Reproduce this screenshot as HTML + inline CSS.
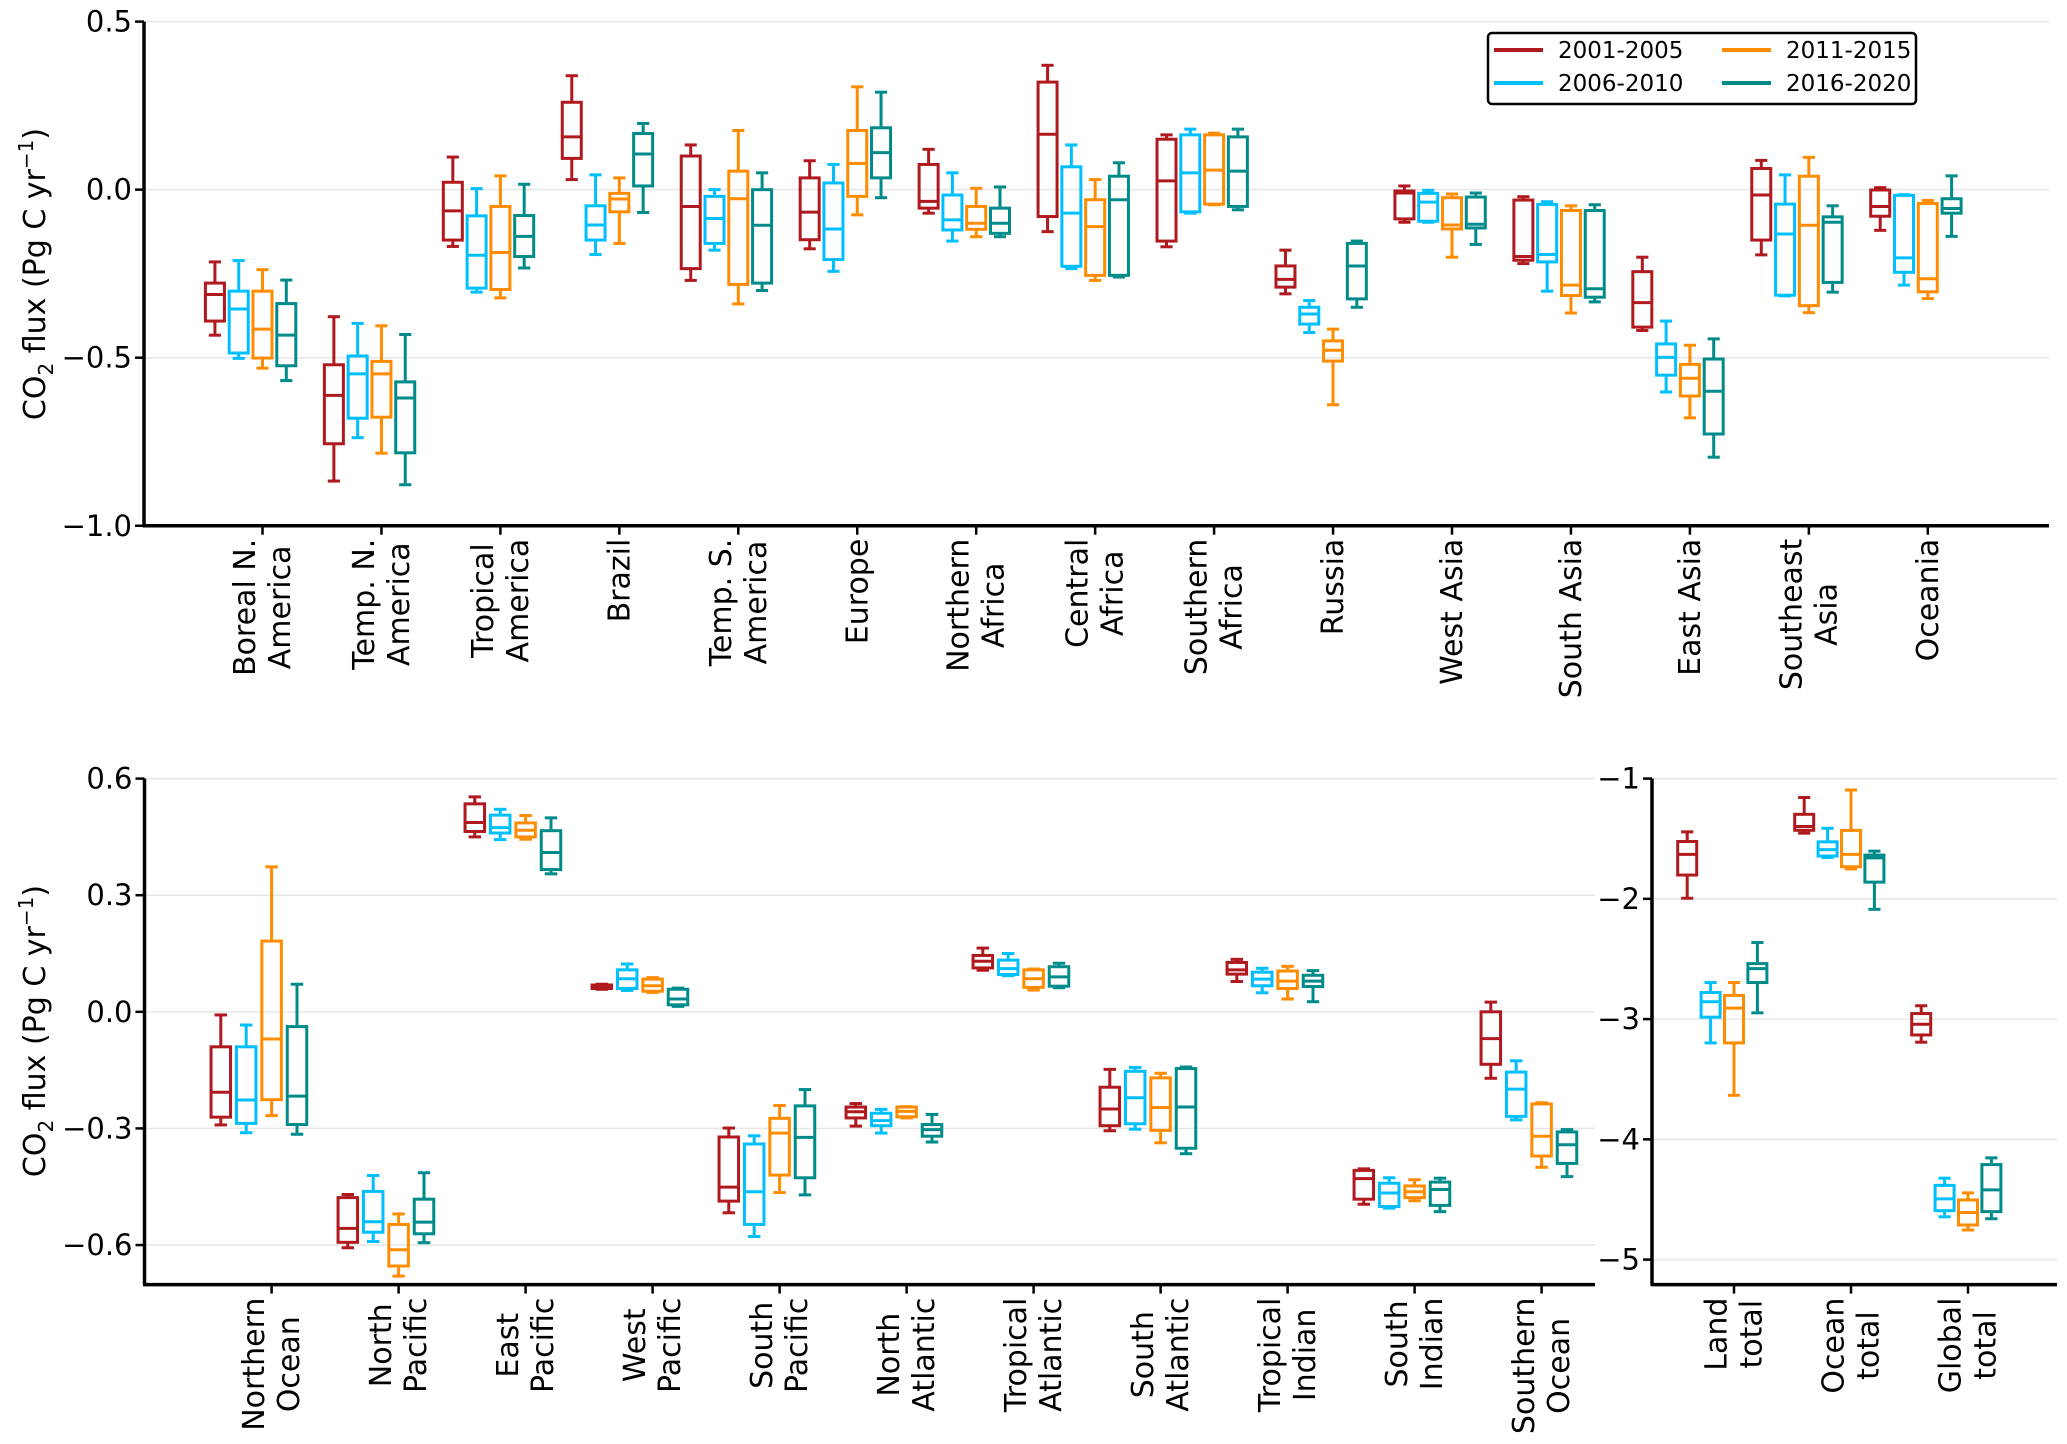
<!DOCTYPE html>
<html><head><meta charset="utf-8"><style>
html,body{margin:0;padding:0;background:#fff;}
svg{display:block;font-family:"DejaVu Sans","Liberation Sans",sans-serif;}
</style></head><body>
<svg id="chart" width="2067" height="1444" viewBox="0 0 2067 1444" xmlns="http://www.w3.org/2000/svg">
<g id="layer"></g>
</svg>
<script>
const colors = ["#b0191e","#00bfff","#ff8c00","#008b8b"];
const periods = ["2001-2005","2006-2010","2011-2015","2016-2020"];

const landCats = ["Boreal N.|America","Temp. N.|America","Tropical|America","Brazil","Temp. S.|America","Europe","Northern|Africa","Central|Africa","Southern|Africa","Russia","West Asia","South Asia","East Asia","Southeast|Asia","Oceania"];
const landTicks = ["0.5","0.0","−0.5","−1.0"];
const landTickVals = [0.5,0,-0.5,-1.0];
const land2001 = [[-0.433,-0.391,-0.312,-0.278,-0.215],[-0.867,-0.756,-0.612,-0.521,-0.378],[-0.169,-0.150,-0.063,0.022,0.097],[0.030,0.093,0.157,0.260,0.339],[-0.27,-0.235,-0.05,0.10,0.133],[-0.176,-0.149,-0.067,0.035,0.086],[-0.07,-0.055,-0.035,0.075,0.12],[-0.125,-0.08,0.165,0.32,0.37],[-0.17,-0.153,0.026,0.15,0.163],[-0.31,-0.29,-0.267,-0.227,-0.18],[-0.097,-0.087,-0.01,-0.004,0.011],[-0.22,-0.21,-0.199,-0.031,-0.021],[-0.419,-0.409,-0.336,-0.244,-0.201],[-0.194,-0.15,-0.016,0.063,0.087],[-0.121,-0.079,-0.05,-0.001,0.006]];
const land2006 = [[-0.502,-0.486,-0.355,-0.302,-0.211],[-0.738,-0.680,-0.548,-0.495,-0.398],[-0.305,-0.293,-0.195,-0.078,0.003],[-0.193,-0.15,-0.105,-0.048,0.044],[-0.18,-0.16,-0.086,-0.02,0.0],[-0.243,-0.208,-0.117,0.02,0.075],[-0.153,-0.12,-0.09,-0.016,0.05],[-0.235,-0.228,-0.07,0.068,0.133],[-0.07,-0.066,0.05,0.163,0.18],[-0.425,-0.40,-0.37,-0.35,-0.33],[-0.097,-0.094,-0.037,-0.011,-0.002],[-0.302,-0.215,-0.193,-0.044,-0.036],[-0.602,-0.552,-0.499,-0.459,-0.391],[-0.316,-0.314,-0.132,-0.043,0.044],[-0.284,-0.246,-0.203,-0.017,-0.015]];
const land2011 = [[-0.531,-0.501,-0.415,-0.302,-0.238],[-0.784,-0.677,-0.548,-0.511,-0.405],[-0.322,-0.297,-0.187,-0.05,0.041],[-0.16,-0.066,-0.028,-0.011,0.035],[-0.34,-0.282,-0.027,0.055,0.176],[-0.075,-0.02,0.078,0.176,0.306],[-0.14,-0.118,-0.1,-0.05,0.004],[-0.27,-0.255,-0.11,-0.03,0.03],[-0.045,-0.043,0.058,0.163,0.168],[-0.64,-0.51,-0.478,-0.45,-0.415],[-0.201,-0.117,-0.105,-0.024,-0.013],[-0.367,-0.315,-0.284,-0.062,-0.048],[-0.679,-0.614,-0.561,-0.52,-0.463],[-0.366,-0.345,-0.106,0.04,0.096],[-0.324,-0.304,-0.265,-0.041,-0.032]];
const land2016 = [[-0.568,-0.524,-0.433,-0.339,-0.269],[-0.878,-0.783,-0.620,-0.572,-0.431],[-0.233,-0.199,-0.139,-0.077,0.016],[-0.068,0.011,0.106,0.167,0.197],[-0.30,-0.278,-0.106,0,0.05],[-0.024,0.035,0.11,0.184,0.29],[-0.14,-0.13,-0.1,-0.055,0.008],[-0.26,-0.255,-0.03,0.04,0.08],[-0.06,-0.05,0.055,0.157,0.18],[-0.35,-0.325,-0.227,-0.16,-0.153],[-0.163,-0.114,-0.103,-0.022,-0.01],[-0.334,-0.32,-0.295,-0.062,-0.045],[-0.796,-0.727,-0.6,-0.504,-0.444],[-0.305,-0.276,-0.097,-0.081,-0.048],[-0.139,-0.07,-0.056,-0.027,0.041]];

const oceanCats = ["Northern|Ocean","North|Pacific","East|Pacific","West|Pacific","South|Pacific","North|Atlantic","Tropical|Atlantic","South|Atlantic","Tropical|Indian","South|Indian","Southern|Ocean"];
const oceanTicks = ["0.6","0.3","0.0","−0.3","−0.6"];
const oceanTickVals = [0.6,0.3,0,-0.3,-0.6];
const ocean2001 = [[-0.291,-0.271,-0.207,-0.09,-0.008],[-0.607,-0.593,-0.557,-0.478,-0.47],[0.45,0.464,0.487,0.535,0.553],[0.058,0.06,0.064,0.069,0.071],[-0.517,-0.487,-0.451,-0.322,-0.299],[-0.294,-0.273,-0.257,-0.245,-0.236],[0.107,0.113,0.13,0.145,0.164],[-0.306,-0.293,-0.25,-0.194,-0.148],[0.078,0.097,0.108,0.127,0.135],[-0.495,-0.482,-0.429,-0.408,-0.404],[-0.171,-0.135,-0.069,0,0.025]];
const ocean2006 = [[-0.311,-0.287,-0.227,-0.09,-0.034],[-0.591,-0.567,-0.54,-0.462,-0.421],[0.443,0.46,0.474,0.506,0.521],[0.055,0.06,0.085,0.108,0.123],[-0.578,-0.547,-0.463,-0.34,-0.319],[-0.312,-0.293,-0.28,-0.261,-0.251],[0.093,0.096,0.111,0.133,0.15],[-0.302,-0.288,-0.221,-0.153,-0.143],[0.049,0.067,0.084,0.102,0.112],[-0.505,-0.501,-0.466,-0.441,-0.427],[-0.278,-0.269,-0.199,-0.155,-0.126]];
const ocean2011 = [[-0.267,-0.226,-0.07,0.182,0.373],[-0.68,-0.654,-0.612,-0.547,-0.52],[0.444,0.45,0.467,0.486,0.505],[0.05,0.053,0.067,0.084,0.088],[-0.465,-0.42,-0.312,-0.274,-0.241],[-0.273,-0.27,-0.256,-0.245,-0.244],[0.056,0.063,0.085,0.108,0.11],[-0.337,-0.305,-0.246,-0.17,-0.158],[0.033,0.06,0.079,0.105,0.117],[-0.486,-0.478,-0.463,-0.448,-0.432],[-0.4,-0.371,-0.32,-0.237,-0.234]];
const ocean2016 = [[-0.315,-0.29,-0.217,-0.038,0.071],[-0.594,-0.571,-0.541,-0.482,-0.414],[0.355,0.366,0.41,0.466,0.499],[0.014,0.018,0.033,0.058,0.061],[-0.471,-0.427,-0.323,-0.242,-0.2],[-0.335,-0.32,-0.303,-0.29,-0.264],[0.062,0.066,0.09,0.116,0.125],[-0.365,-0.351,-0.245,-0.146,-0.142],[0.026,0.065,0.079,0.094,0.106],[-0.514,-0.498,-0.457,-0.438,-0.428],[-0.424,-0.39,-0.342,-0.309,-0.303]];

const totalCats = ["Land|total","Ocean|total","Global|total"];
const totalTicks = ["−1","−2","−3","−4","−5"];
const totalTickVals = [-1,-2,-3,-4,-5];
const total2001 = [[-1.995,-1.802,-1.63,-1.523,-1.443],[-1.454,-1.43,-1.398,-1.297,-1.157],[-3.192,-3.132,-3.043,-2.954,-2.889]];
const total2006 = [[-3.198,-2.984,-2.856,-2.779,-2.696],[-1.656,-1.644,-1.591,-1.526,-1.413],[-4.644,-4.593,-4.495,-4.383,-4.323]];
const total2011 = [[-3.634,-3.198,-2.909,-2.803,-2.696],[-1.751,-1.733,-1.63,-1.431,-1.095],[-4.754,-4.712,-4.608,-4.504,-4.445]];
const total2016 = [[-2.948,-2.696,-2.58,-2.538,-2.363],[-2.087,-1.861,-1.659,-1.636,-1.603],[-4.66,-4.601,-4.42,-4.21,-4.154]];

const NS = "http://www.w3.org/2000/svg";
const layer = document.getElementById('layer');
function mk(tag, attrs, parent){
  const e = document.createElementNS(NS, tag);
  for (const k in attrs) e.setAttribute(k, attrs[k]);
  (parent||layer).appendChild(e);
  return e;
}

function panel(p){
  const g = mk('g', {});
  
  
  const y = v => p.yTop + (p.vTop - v) * p.ppu;
  const x = i => p.x0 + i * p.step;
  p.tickVals.forEach((tv, i) => {
    const gl = mk('line', {x1:p.axL, x2:p.axR, y1:y(tv), y2:y(tv), stroke:'#e6e6e6', 'stroke-width':1.5}, g);
    
    
  });
  p.series.forEach((ser, s) => {
    const sg = mk('g', {fill:'none', stroke:colors[s], 'stroke-width':3}, g);
    
    
    ser.forEach((d, i) => {
      const cx = x(i) + (s - 2) * p.step / 5;
      const hw = p.boxW / 2, cw = p.boxW * 0.32;
      const bg = mk('g', {}, sg);
      
      
      mk('line', {x1:cx, x2:cx, y1:y(d[0]), y2:y(d[1])}, bg);
      mk('line', {x1:cx, x2:cx, y1:y(d[3]), y2:y(d[4])}, bg);
      mk('line', {x1:cx-cw, x2:cx+cw, y1:y(d[0]), y2:y(d[0])}, bg);
      mk('line', {x1:cx-cw, x2:cx+cw, y1:y(d[4]), y2:y(d[4])}, bg);
      mk('rect', {x:cx-hw, y:y(d[3]), width:p.boxW, height:Math.max(0.5, y(d[1])-y(d[3]))}, bg);
      mk('line', {x1:cx-hw, x2:cx+hw, y1:y(d[2]), y2:y(d[2])}, bg);
    });
  });
  const ls = mk('line', {x1:p.axL, x2:p.axL, y1:p.yTop, y2:p.yBot, stroke:'#000', 'stroke-width':3.5}, g);
  
  
  const bs = mk('line', {x1:p.axL-1.5, x2:p.axR, y1:p.yBot, y2:p.yBot, stroke:'#000', 'stroke-width':3.5}, g);
  
  
  p.tickVals.forEach((tv, i) => {
    mk('line', {x1:p.axL-9, x2:p.axL, y1:y(tv), y2:y(tv), stroke:'#000', 'stroke-width':2.5}, g);
    const t = mk('text', {x:p.axL-12, y:y(tv)+10, 'text-anchor':'end', 'font-size':29, fill:'#000'}, g);
    t.textContent = p.tickLabels[i];
    
    
  });
  p.cats.forEach((c, i) => {
    const tx = x(i);
    mk('line', {x1:tx, x2:tx, y1:p.yBot, y2:p.yBot+9, stroke:'#000', 'stroke-width':2.5}, g);
    const lines = c.split('|');
    const lg = mk('g', {}, g);
    
    
    const texts = lines.map((ln, k) => {
      const lx = tx + (k - (lines.length - 1) / 2) * 35 + 10;
      const t = mk('text', {'font-size':30, fill:'#000', 'text-anchor':'middle'}, lg);
      t.textContent = ln;
      t._lx = lx;
      return t;
    });
    const maxW = Math.max(...texts.map(t => t.getComputedTextLength()));
    const midY = p.yBot + 13 + maxW / 2;
    texts.forEach(t => {
      t.setAttribute('transform', 'translate(' + t._lx + ',' + midY + ') rotate(-90)');
    });
  });
}

panel({name:'land-panel', cats:landCats, series:[land2001,land2006,land2011,land2016],
  tickVals:landTickVals, tickLabels:landTicks, yTop:21.6, vTop:0.5, ppu:336.1, yBot:525.7,
  axL:144, axR:2049, x0:262.5, step:118.95, boxW:19});
panel({name:'ocean-panel', cats:oceanCats, series:[ocean2001,ocean2006,ocean2011,ocean2016],
  tickVals:oceanTickVals, tickLabels:oceanTicks, yTop:778.6, vTop:0.6, ppu:388.7, yBot:1284.6,
  axL:144.5, axR:1595, x0:271.6, step:127, boxW:19.5});
panel({name:'totals-panel', cats:totalCats, series:[total2001,total2006,total2011,total2016],
  tickVals:totalTickVals, tickLabels:totalTicks, yTop:778.6, vTop:-1, ppu:120.25, yBot:1284.6,
  axL:1652, axR:2057, x0:1734, step:117, boxW:19});

[[274,'y-axis-title-land'],[1031,'y-axis-title-ocean']].forEach(([cy, nm]) => {
  const t = mk('text', {transform:'translate(45,' + cy + ') rotate(-90)', 'text-anchor':'middle', 'font-size':30, fill:'#000'});
  
  
  t.innerHTML = 'CO<tspan font-size="20" dy="8">2</tspan><tspan dy="-8"> flux (Pg C yr</tspan><tspan font-size="20" dy="-12">−1</tspan><tspan dy="12">)</tspan>';
});

const leg = mk('g', {});


mk('rect', {x:1488, y:33, width:428, height:71, rx:4, fill:'#fff', stroke:'#000', 'stroke-width':2.5}, leg);
const legPos = [[1494,50],[1494,83],[1722,50],[1722,83]];
periods.forEach((pname, s) => {
  const [lx, ly] = legPos[s];
  const eg = mk('g', {}, leg);
  
  
  mk('line', {x1:lx, x2:lx+49, y1:ly, y2:ly, stroke:colors[s], 'stroke-width':4}, eg);
  const t = mk('text', {x:lx+64, y:ly+8, 'font-size':23, fill:'#000'}, eg);
  t.textContent = pname;
});
</script>
</body></html>
